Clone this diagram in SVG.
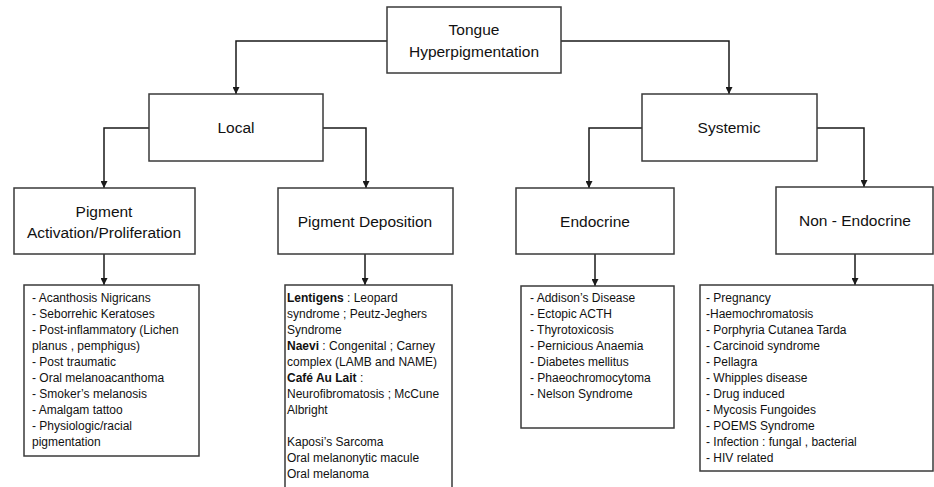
<svg xmlns="http://www.w3.org/2000/svg" width="934" height="487" viewBox="0 0 934 487">
<defs>
<marker id="arr" markerWidth="7" markerHeight="7" refX="7" refY="3.5" orient="auto" markerUnits="userSpaceOnUse">
<path d="M0,0 L7,3.5 L0,7 z" fill="#1a1a1a"/>
</marker>
<style>
.box{fill:#fff;stroke:#3a3a3a;stroke-width:1.5}
.conn{fill:none;stroke:#1a1a1a;stroke-width:1.5;marker-end:url(#arr)}
.h{font-family:"Liberation Sans",Arial,sans-serif;font-size:15.5px;fill:#111;text-anchor:middle}
.t{font-family:"Liberation Sans",Arial,sans-serif;font-size:12px;fill:#111}
.b{font-weight:bold}
</style>
</defs>
<rect width="934" height="487" fill="#fff"/>
<g id="connectors">
<path class="conn" d="M387,41 H236 V94"/>
<path class="conn" d="M561,41 H729 V94"/>
<path class="conn" d="M149,128 H104 V188"/>
<path class="conn" d="M323,128 H366 V188"/>
<path class="conn" d="M642,128 H589 V188"/>
<path class="conn" d="M817,128 H864 V187"/>
<path class="conn" d="M104,254 V285"/>
<path class="conn" d="M365,254 V285"/>
<path class="conn" d="M595,254 V286"/>
<path class="conn" d="M855,254 V285"/>
</g>
<g id="root">
<rect class="box" x="387" y="7" width="174" height="66"/>
<text class="h" x="474" y="35">Tongue</text>
<text class="h" x="474" y="57">Hyperpigmentation</text>
</g>
<g id="local">
<rect class="box" x="149" y="94" width="174" height="67"/>
<text class="h" x="236" y="133">Local</text>
</g>
<g id="systemic">
<rect class="box" x="642" y="94" width="175" height="67"/>
<text class="h" x="729" y="133">Systemic</text>
</g>
<g id="pigment-activation">
<rect class="box" x="14" y="188" width="181" height="66"/>
<text class="h" x="104" y="217">Pigment</text>
<text class="h" x="104" y="238">Activation/Proliferation</text>
</g>
<g id="pigment-deposition">
<rect class="box" x="278" y="188" width="175" height="66"/>
<text class="h" x="365" y="227">Pigment Deposition</text>
</g>
<g id="endocrine">
<rect class="box" x="516" y="188" width="158" height="66"/>
<text class="h" x="595" y="227">Endocrine</text>
</g>
<g id="non-endocrine">
<rect class="box" x="776" y="187" width="157" height="67"/>
<text class="h" x="855" y="226">Non - Endocrine</text>
</g>
<g id="pa-list">
<rect class="box" x="24" y="285" width="175" height="171"/>
<text class="t" x="32" y="302">- Acanthosis Nigricans</text>
<text class="t" x="32" y="318">- Seborrehic Keratoses</text>
<text class="t" x="32" y="334">- Post-inflammatory (Lichen</text>
<text class="t" x="32" y="350">planus , pemphigus)</text>
<text class="t" x="32" y="366">- Post traumatic</text>
<text class="t" x="32" y="382">- Oral melanoacanthoma</text>
<text class="t" x="32" y="398">- Smoker’s melanosis</text>
<text class="t" x="32" y="414">- Amalgam tattoo</text>
<text class="t" x="32" y="430">- Physiologic/racial</text>
<text class="t" x="32" y="446">pigmentation</text>
</g>
<g id="pd-list">
<rect class="box" x="285" y="285" width="167" height="210"/>
<text class="t" x="287" y="302"><tspan class="b">Lentigens</tspan> : Leopard</text>
<text class="t" x="287" y="318">syndrome ; Peutz-Jeghers</text>
<text class="t" x="287" y="334">Syndrome</text>
<text class="t" x="287" y="350"><tspan class="b">Naevi</tspan> : Congenital ; Carney</text>
<text class="t" x="287" y="366">complex (LAMB and NAME)</text>
<text class="t" x="287" y="382"><tspan class="b">Café Au Lait</tspan> :</text>
<text class="t" x="287" y="398">Neurofibromatosis ; McCune</text>
<text class="t" x="287" y="414">Albright</text>
<text class="t" x="287" y="446">Kaposi’s Sarcoma</text>
<text class="t" x="287" y="462">Oral melanonytic macule</text>
<text class="t" x="287" y="478">Oral melanoma</text>
</g>
<g id="endocrine-list">
<rect class="box" x="521" y="286" width="153" height="142"/>
<text class="t" x="530" y="302">- Addison’s Disease</text>
<text class="t" x="530" y="318">- Ectopic ACTH</text>
<text class="t" x="530" y="334">- Thyrotoxicosis</text>
<text class="t" x="530" y="350">- Pernicious Anaemia</text>
<text class="t" x="530" y="366">- Diabetes mellitus</text>
<text class="t" x="530" y="382">- Phaeochromocytoma</text>
<text class="t" x="530" y="398">- Nelson Syndrome</text>
</g>
<g id="non-endocrine-list">
<rect class="box" x="700" y="285" width="233" height="186"/>
<text class="t" x="706" y="302">- Pregnancy</text>
<text class="t" x="706" y="318">-Haemochromatosis</text>
<text class="t" x="706" y="334">- Porphyria Cutanea Tarda</text>
<text class="t" x="706" y="350">- Carcinoid syndrome</text>
<text class="t" x="706" y="366">- Pellagra</text>
<text class="t" x="706" y="382">- Whipples disease</text>
<text class="t" x="706" y="398">- Drug induced</text>
<text class="t" x="706" y="414">- Mycosis Fungoides</text>
<text class="t" x="706" y="430">- POEMS Syndrome</text>
<text class="t" x="706" y="446">- Infection : fungal , bacterial</text>
<text class="t" x="706" y="462">- HIV related</text>
</g>
</svg>
